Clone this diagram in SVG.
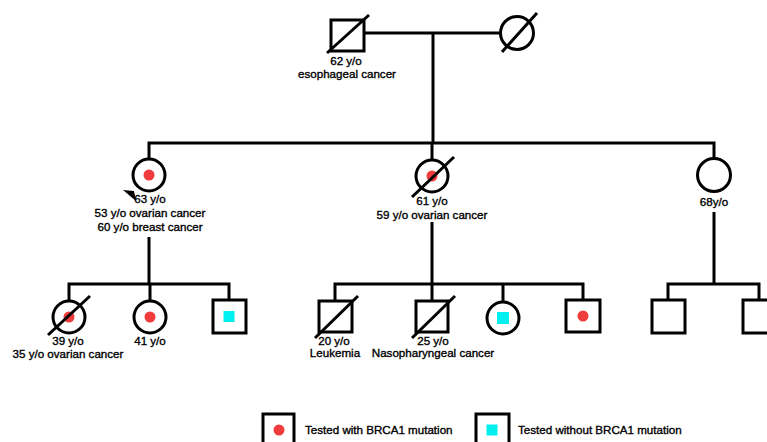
<svg xmlns="http://www.w3.org/2000/svg" width="767" height="442" viewBox="0 0 767 442">
<style>
.ln{stroke:#000;stroke-width:3;fill:none}
.sh{stroke:#000;stroke-width:3;fill:#fff}
.red{fill:#f03c3c}
.cy{fill:#00f0f0}
text{font-family:"Liberation Sans",Arial,sans-serif;font-size:11.6px;fill:#000;stroke:#000;stroke-width:0.35;text-anchor:middle}
.lg{text-anchor:start}
</style>
<rect width="767" height="442" fill="#fff"/>
<g id="connectors">
<line class="ln" x1="364" y1="33" x2="500" y2="33"/>
<line class="ln" x1="433" y1="33" x2="433" y2="143"/>
<polyline class="ln" points="149,160 149,143 714,143 714,158"/>
<line class="ln" x1="432" y1="143" x2="432" y2="160"/>
<line class="ln" x1="149" y1="237" x2="149" y2="284"/>
<polyline class="ln" points="69,301 69,284 229,284 229,300"/>
<line class="ln" x1="150" y1="284" x2="150" y2="301"/>
<line class="ln" x1="432" y1="222" x2="432" y2="284"/>
<polyline class="ln" points="335,301 335,284 583,284 583,300"/>
<line class="ln" x1="432" y1="284" x2="432" y2="301"/>
<line class="ln" x1="503" y1="284" x2="503" y2="302"/>
<line class="ln" x1="714" y1="212" x2="714" y2="284"/>
<polyline class="ln" points="668,300 668,284 759,284 759,300"/>
</g>
<g id="grandfather">
<rect class="sh" x="331" y="20" width="33" height="31"/>
<line class="ln" x1="327" y1="53" x2="369" y2="15"/>
<text x="346" y="65">62 y/o</text>
<text x="347" y="78">esophageal cancer</text>
</g>
<g id="grandmother">
<circle class="sh" cx="517" cy="33" r="16.5"/>
<line class="ln" x1="502" y1="52" x2="537" y2="13"/>
</g>
<g id="proband">
<circle class="sh" cx="149" cy="175" r="16"/>
<circle class="red" cx="149" cy="175" r="5.5"/>
<polygon points="123,190 134,191 136,201" fill="#000"/>
<text x="150" y="203">63 y/o</text>
<text x="150" y="217">53 y/o ovarian cancer</text>
<text x="150" y="231">60 y/o breast cancer</text>
</g>
<g id="aunt61">
<circle class="sh" cx="432" cy="176" r="16"/>
<circle class="red" cx="432" cy="176" r="5.5"/>
<line class="ln" x1="412" y1="197" x2="454" y2="157"/>
<text x="432" y="205">61 y/o</text>
<text x="432" y="219">59 y/o ovarian cancer</text>
</g>
<g id="aunt68">
<circle class="sh" cx="714" cy="175" r="16.5"/>
<text x="714" y="206">68y/o</text>
</g>
<g id="daughter39">
<circle class="sh" cx="69" cy="317" r="16"/>
<circle class="red" cx="69" cy="317" r="5.5"/>
<line class="ln" x1="48" y1="335" x2="90" y2="296"/>
<text x="68" y="345">39 y/o</text>
<text x="68" y="358">35 y/o ovarian cancer</text>
</g>
<g id="daughter41">
<circle class="sh" cx="150" cy="317" r="16"/>
<circle class="red" cx="150" cy="317" r="5.5"/>
<text x="150" y="345">41 y/o</text>
</g>
<g id="son1">
<rect class="sh" x="213" y="300" width="33" height="33"/>
<rect class="cy" x="223.5" y="311" width="11" height="11"/>
</g>
<g id="cousin20">
<rect class="sh" x="319" y="301" width="33" height="31"/>
<line class="ln" x1="315" y1="338" x2="358" y2="296"/>
<text x="334" y="345">20 y/o</text>
<text x="335" y="357">Leukemia</text>
</g>
<g id="cousin25">
<rect class="sh" x="416" y="301" width="32" height="31"/>
<line class="ln" x1="412" y1="338" x2="455" y2="296"/>
<text x="433" y="345">25 y/o</text>
<text x="433" y="357">Nasopharyngeal cancer</text>
</g>
<g id="cousinF">
<circle class="sh" cx="503" cy="318" r="16"/>
<rect class="cy" x="497" y="312" width="12" height="12"/>
</g>
<g id="cousinM">
<rect class="sh" x="566" y="300" width="34" height="32"/>
<circle class="red" cx="583" cy="316" r="5.5"/>
</g>
<g id="son68a">
<rect class="sh" x="652" y="300" width="33" height="33"/>
</g>
<g id="son68b">
<rect class="sh" x="743" y="300" width="33" height="33"/>
</g>
<g id="legend">
<rect class="sh" x="263" y="414" width="31" height="40"/>
<circle class="red" cx="279" cy="430" r="5.5"/>
<text class="lg" x="305" y="434">Tested with BRCA1 mutation</text>
<rect class="sh" x="476" y="414" width="33" height="40"/>
<rect class="cy" x="486.5" y="424.5" width="11" height="11"/>
<text class="lg" x="518" y="434">Tested without BRCA1 mutation</text>
</g>
</svg>
